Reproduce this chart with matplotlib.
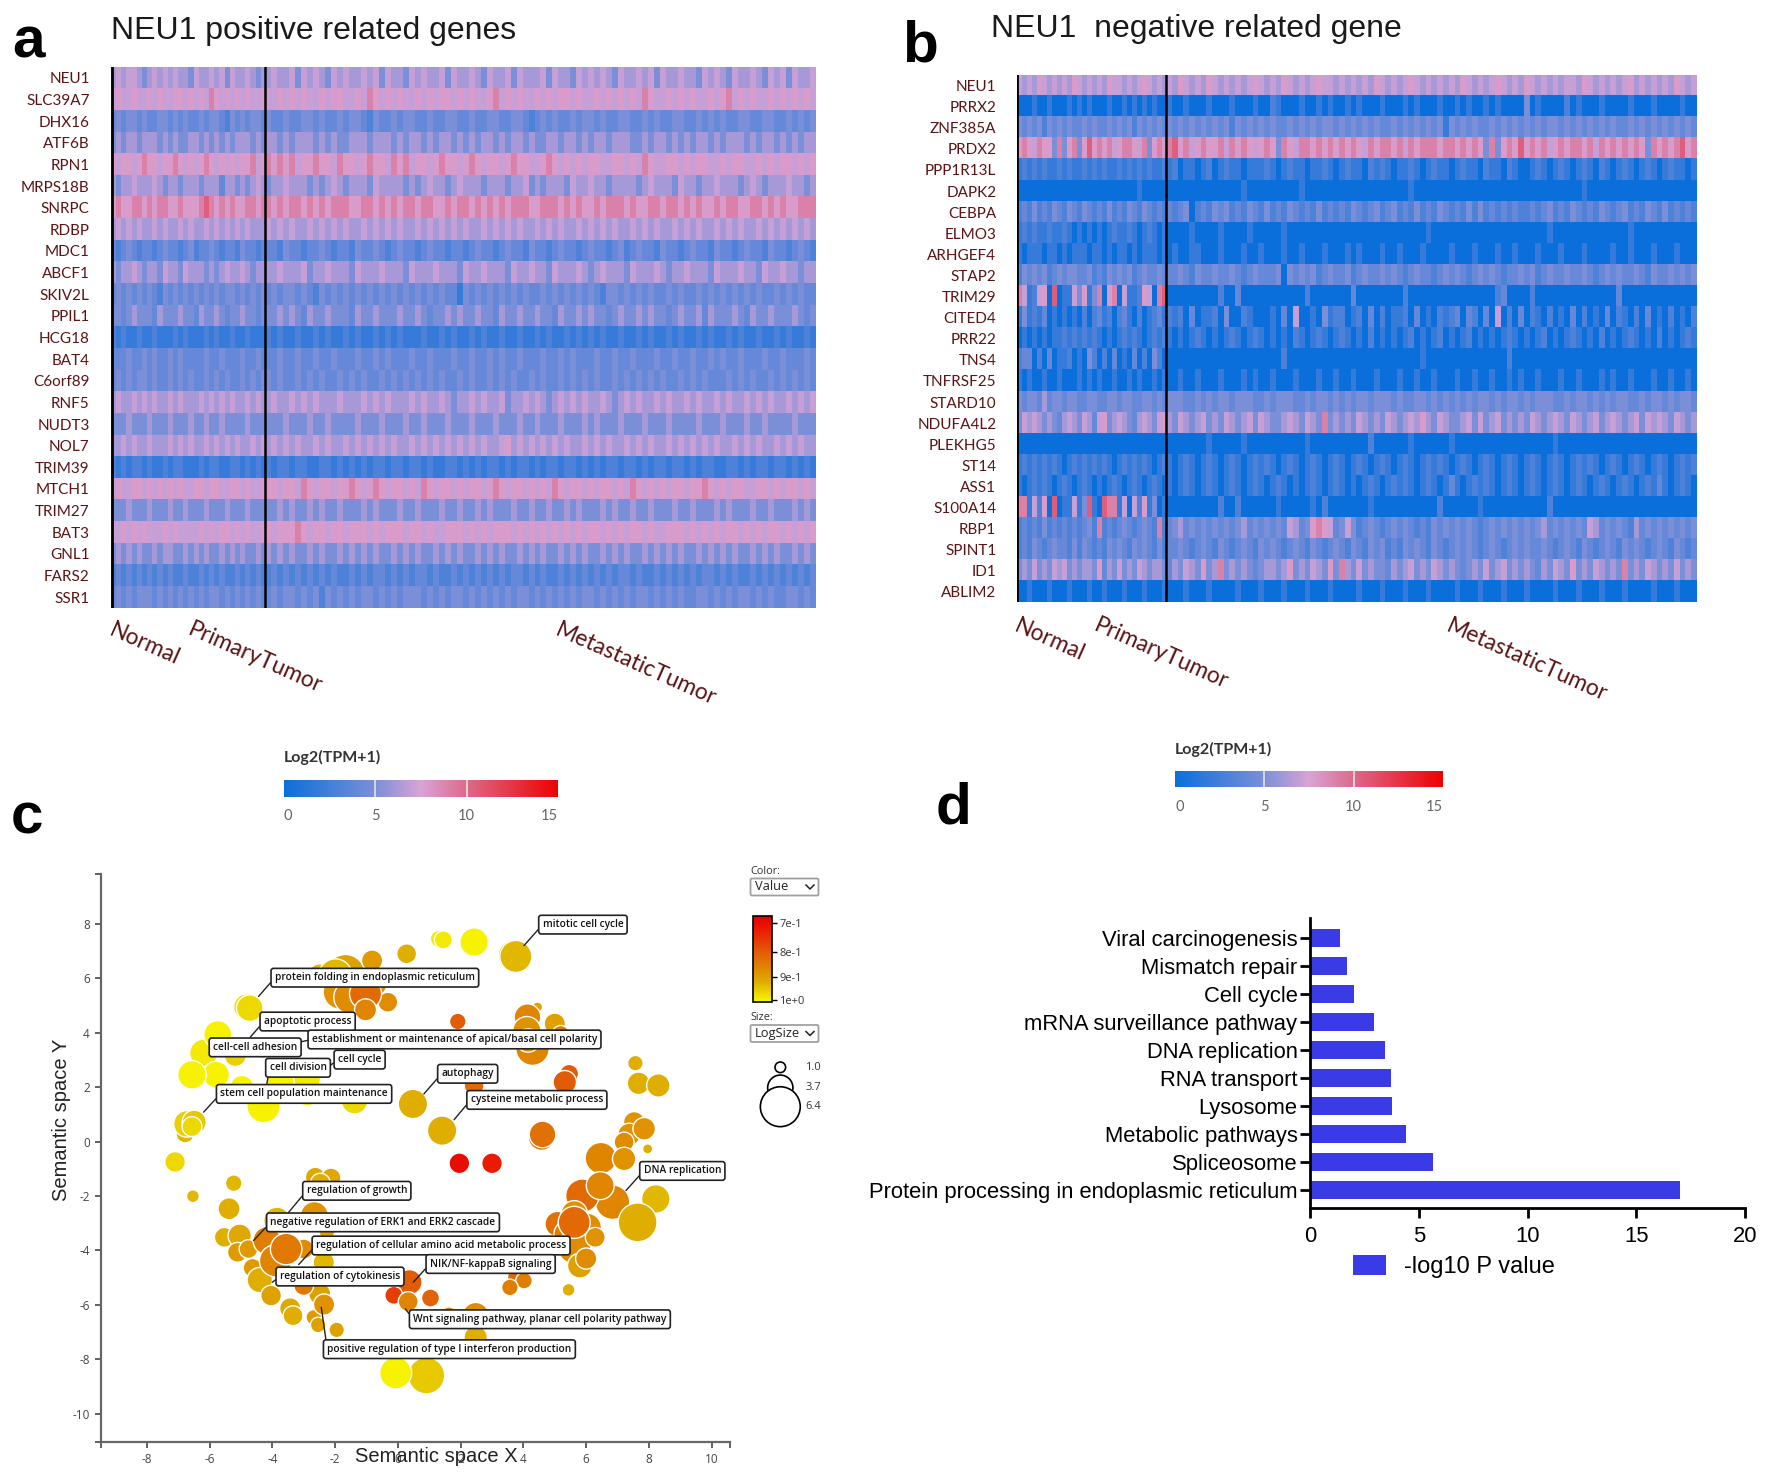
"""
Four panel figure for NEU1: two expression heatmaps, a semantic space
bubble plot of GO terms and a bar chart of enriched pathways.
All values are estimated by eye from the published picture.
"""
import numpy as np
import matplotlib
matplotlib.use('Agg')
import matplotlib.pyplot as plt
from matplotlib.cm import ScalarMappable
from matplotlib.colors import LinearSegmentedColormap, LogNorm, Normalize
from matplotlib.patches import Circle, FancyBboxPatch

WIDTH = 1772
HEIGHT = 1476
DPI = 100

GENES_A = ['NEU1', 'SLC39A7', 'DHX16', 'ATF6B', 'RPN1', 'MRPS18B', 'SNRPC',
           'RDBP', 'MDC1', 'ABCF1', 'SKIV2L', 'PPIL1', 'HCG18', 'BAT4',
           'C6orf89', 'RNF5', 'NUDT3', 'NOL7', 'TRIM39', 'MTCH1', 'TRIM27',
           'BAT3', 'GNL1', 'FARS2', 'SSR1']
GENES_B = ['NEU1', 'PRRX2', 'ZNF385A', 'PRDX2', 'PPP1R13L', 'DAPK2', 'CEBPA',
           'ELMO3', 'ARHGEF4', 'STAP2', 'TRIM29', 'CITED4', 'PRR22', 'TNS4',
           'TNFRSF25', 'STARD10', 'NDUFA4L2', 'PLEKHG5', 'ST14', 'ASS1',
           'S100A14', 'RBP1', 'SPINT1', 'ID1', 'ABLIM2']

# one digit per group of samples, normal part | tumour part
LEVELS = [0.1, 2.0, 3.0, 4.0, 5.0, 6.2, 7.0, 7.9, 9.0, 10.5]
ROWS_A = [
    '565665456565655465565646556545|56556465654656556564655465655646556546556465556465546565654655656465565546565465565465646556',
    '676676676766776767687676767667|66767676676776676876767667676776767667867676676767767667676767687667676766767867676676767676',
    '343443433443434334344324343443|43343344343343443243343443343344334334433443234343343443433443343433443343434334433443343434',
    '454554555454544554545454555454|55454555454544555455545455454554545455454554544554554545545554454554545455454555454554545455',
    '767767877677876767876767677867|87878677877687767877687867767877678767767877667876767677667767687667767677667677667676776767',
    '545565556545545554555355454565|45565554545654555465555454565545655545554556454555465565545555456555465545565554565455565545',
    '787788787887787778987878778878|87878878787888778878787887887787887878787888778887878778788878778878878787787887788787877888',
    '565656556565565655656565656555|65656556565656556565656556565656565565656565565656556565656556565655656565565656556565656565',
    '323432332343323423343233243323|33243323343233243343234332343323323433234332433234332343323423433243323433243323433243323432',
    '545565455465546555454565565455|55655564556555465556555465556555465565554655655465556545655546555654556555465556554655655455',
    '343434343243434343434344343434|34344343243434343434343434343433143434343434334343434343244343434334343343434343434334343433',
    '443454443544454435445434454434|44545435445444354454445445434454544544354454454435445454434544545443454453544454354454445434',
    '212112112111212111212112112111|21211211212112121121212111211212112121121121121211212121211211212112121121211212112112121121',
    '333433434334343333433433343343|33433433433433343343433343343334334334343343334334343334334334333433433433434334333433433343',
    '343434434334343433434343343434|43433434343343434334343434343433434334343433434334343434334343434343343434333434343343434343',
    '565565656556565556565656556565|56556565655565556565655565655654556565564556565456565655654565655656556565565655656565565656',
    '444544454445444544544544445444|44454445445444454445444544544454445444544454454445444545444544454445444454445444544544445444',
    '556565565556565655656565655656|56565655656556565656565565656565656565567565656565655656565565656556565656565565656556565655',
    '212122121121221112122112212121|21221221122121212122122122121122121212212122121221221212122122121221221212211221212212212121',
    '676677676767676677677667767667|77677687677677876787677676876776767767876776767687677676776768767676776778767677667767677676',
    '444544454445445444544454445444|44545445454454445454445445444544544545444544544544545444545445445444544544454544454454445454',
    '667676766676766667676776767667|76777876776776777676777677676677767676777676767676767677676767767667776767676776767677676767',
    '454545445455445454544545454454|54545445454454545454454545445454544545454454545445454544545454454545454454545454454545445454',
    '232323232323223223232322323232|23232323232322323233232323323223232323232332323223232323232332322323232323323232232323232323',
    '343434443434343434344343434343|34344343424343434434343444343434434343434344343434343443434343443434343344343434434343344343',
]
ROWS_B = [
    '656576565657656565766565676565|65765657656565676565765656766565656576565676565656576565676565765656566576565656756565657656',
    '000100100010101000100101010100|10010001000100010021000100101001010001000101000100101001010000401000020100010000100010000100',
    '434342434343343433434342434343|43434343434243434343343434344343434343343434343414343433434343434344343434343433434343434343',
    '787687748478479787867887684787|89786787786878767874876887878787876878878687888788787874847879787867878878687878787487878978',
    '121212112121121212112121212112|12011012012110111210121101121012110212101121012110121102110210012101210121021012101210121101',
    '000000000000000000000000100000|00000000000001000000000100000000000000000010000000000000000000000000000010000000000000000000',
    '232423243243243232423243243232|32340232434232432423243232423232432342342324232432324242323232232342324323243234232432423232',
    '121211211210101010121121012101|00001000010000100000100000000000000000000000010000000000000000000010000000000000100000000000',
    '101110110101110110101101011101|01001100010001001000100100010001010001001000100001000100010010001000100010000100100010001000',
    '243434234344334232434342343343|33432433433432343334043434234334234334343234332343432343432334342343343343234343343243343434',
    '861267090116471480780611276089|00000000020030000000000020000000300000000200000000000000023000020000000000000030000000000000',
    '141213010101020231202310201231|21203011204002100010306001041220120302011203010212303203060203021020103020103021020301020102',
    '010101011212121210101212101212|10101210101210121010102101210121010201010120101201012010101210101201012101020101210102010121',
    '233020301120104202030103020420|00000000000000000000200000000000000000000000100000000000000200000000000000000000000000000000',
    '101001001000101010010010100101|00100100010001010010001000100100100010001001001000100100100101001000100100010100100010010010',
    '434435344344334433443443344343|44433434344344433434443343443434344344434334434343434344343443434443343443434344334344343443',
    '465654543565465367456543565467|54654564546545646544565465484545465454654565754654456464564545465456546545645654564656546545',
    '000000000000000000000000000000|00000001000001000000000010000000000200000010000001000000000000000001000000000000000000000000',
    '121212121012121212101212121012|10121012101210121210121012101210121012101210121210121012101210121012101212101210121012101212',
    '101212101210121010121012101210|10121012101210121012101012101210101210121210121013101212101210121012101210121012101213101210',
    '881627090116149109881606271401|00000000020020000001000001020000000100000000000200000010000000000020000000000000000000000000',
    '232324232323234282323432343282|34534343434345343434365347876346423432343432324343434323434343434534343436534343253434343434',
    '232432343324243232434324343242|33432343243234324343234324323432432434232434324323434323432343433432343243234324343234324323',
    '454645465645455473546454654554|35465474584545434554574546547485464544354564546545434546456454543546547454654548454654546454',
    '001000100010001001000100010001|00010001000010001000100010001000010001000100010000100010001000100001000100010001000010001000',
]

DIVIDER_SHARE = 18  # width of the normal part, in the same units as TOTAL_SHARE
TOTAL_SHARE = 82

CATEGORY_LABELS = ['Normal', 'PrimaryTumor', 'MetastaticTumor']
TPM_TICKS = [0, 5, 10, 15]

# semantic space bubbles
BUBBLE_X = [-7.10, -6.78, -6.72, -6.49, -6.56, -6.19, -5.79, -6.56, -5.74,
            -5.18, -4.97, -4.81, -4.72, -4.28, -4.33, -3.69, -2.89, -2.89,
            -1.38, -2.49, -1.67, -1.99, -0.82, 0.28, -1.83, -0.77, -0.32,
            -1.51, -1.03, -1.03, 1.31, 1.45, 2.43, 1.91, 0.48, 1.41, 1.96,
            2.43, 3.68, 3.76, 4.45, 4.13, 5.00, 4.11, 5.19, 4.29, 4.15,
            5.46, 5.32, 4.58, 4.61, 3.00, 7.57, 7.67, 8.30, 7.53, 7.37,
            7.21, 7.85, 7.96, 6.47, 7.21, 6.84, 5.88, 6.45, 8.22, 7.64,
            5.09, 5.62, 5.40, 6.04, 5.62, 5.80, 6.00, 6.29, 5.62, 5.44,
            3.81, 4.02, 3.57, 2.48, 1.63, 2.48, 0.91, -0.07, -5.23, -6.53,
            -5.38, -5.53, -5.04, -5.11, -4.76, -4.63, -4.40, -4.04, -3.43,
            -3.34, -2.68, -2.54, -1.95, -2.49, -2.35, -2.63, -2.13, -2.47,
            -3.85, -2.66, -4.17, -3.00, -3.00, -2.36, -2.26, -3.90, -3.56,
            0.37, -0.13, 0.33, 1.04]
BUBBLE_Y = [-0.75, 0.28, 0.65, 0.71, 0.55, 3.25, 2.46, 2.45, 3.93,
            3.16, 2.00, 4.94, 4.90, 1.30, 3.35, 2.24, 1.87, 2.30,
            1.50, 6.10, 6.16, 6.10, 6.65, 6.90, 5.49, 5.80, 5.12,
            5.30, 5.43, 4.84, 7.45, 7.41, 7.33, 4.41, 1.38, 0.40, -0.80,
            2.06, 6.84, 6.80, 4.94, 4.57, 4.33, 4.08, 3.96, 3.41, 3.71,
            2.49, 2.18, 0.16, 0.26, -0.80, 2.88, 2.14, 2.06, 0.71, 0.26,
            -0.02, 0.47, -0.27, -0.61, -0.64, -2.23, -1.99, -1.62, -2.11, -2.97,
            -3.03, -2.66, -3.39, -3.15, -3.88, -4.56, -4.30, -3.52, -2.97, -5.45,
            -4.99, -5.11, -5.36, -6.40, -6.34, -7.20, -8.60, -8.50, -1.53, -2.01,
            -2.47, -3.52, -3.46, -4.07, -3.95, -4.64, -5.09, -5.66, -6.13,
            -6.40, -6.46, -6.74, -6.92, -5.60, -5.99, -1.31, -1.34, -1.53,
            -2.90, -2.72, -3.64, -3.95, -5.29, -4.44, -3.27, -4.38, -3.95,
            -5.17, -5.65, -5.88, -5.75]
BUBBLE_SIZE = [2.85, 2.36, 3.95, 3.50, 2.70, 4.20, 3.95, 4.30, 4.20,
               3.10, 3.35, 3.95, 3.95, 5.20, 2.10, 4.60, 4.60, 3.95,
               3.95, 3.35, 6.20, 5.20, 2.95, 2.70, 5.40, 3.95, 2.70,
               5.20, 4.95, 3.10, 2.20, 2.36, 4.30, 2.10, 4.45, 4.45, 2.85,
               2.70, 4.60, 4.95, 0.90, 3.95, 2.95, 4.20, 2.10, 5.20, 3.35,
               2.50, 3.35, 3.95, 3.95, 2.85, 1.90, 3.20, 3.35, 2.95, 3.20,
               2.70, 3.20, 0.90, 4.85, 3.35, 5.40, 5.20, 4.20, 4.30, 6.20,
               3.70, 3.95, 3.95, 4.20, 5.20, 3.60, 2.95, 2.70, 4.95, 1.40,
               2.70, 2.10, 2.10, 3.95, 1.70, 3.35, 5.80, 4.95, 2.10, 1.40,
               3.10, 2.70, 3.35, 2.70, 2.50, 2.50, 3.70, 2.85, 2.95,
               2.70, 1.90, 1.90, 1.90, 3.10, 2.95, 2.70, 2.70, 2.70,
               3.95, 4.20, 4.20, 2.70, 2.70, 2.95, 2.10, 4.95, 4.85,
               3.70, 2.36, 2.70, 2.36]
BUBBLE_VALUE = [0.97, 0.93, 0.96, 0.95, 0.97, 0.99, 1.00, 1.00, 1.00,
                0.96, 1.00, 0.98, 0.97, 1.00, 1.00, 1.00, 1.00, 0.99,
                0.97, 0.93, 0.90, 0.93, 0.89, 0.92, 0.88, 0.88, 0.87,
                0.87, 0.82, 0.86, 0.99, 0.99, 1.00, 0.80, 0.92, 0.92, 0.70,
                0.82, 0.94, 0.93, 0.90, 0.86, 0.90, 0.88, 0.85, 0.86, 0.87,
                0.80, 0.80, 0.84, 0.83, 0.72, 0.92, 0.92, 0.92, 0.88, 0.88,
                0.87, 0.88, 0.92, 0.86, 0.88, 0.86, 0.82, 0.86, 0.93, 0.92,
                0.83, 0.88, 0.85, 0.87, 0.87, 0.90, 0.87, 0.88, 0.82, 0.92,
                0.82, 0.85, 0.85, 0.87, 0.86, 0.92, 0.95, 1.00, 0.93, 0.93,
                0.92, 0.92, 0.91, 0.89, 0.89, 0.89, 0.92, 0.90, 0.91,
                0.92, 0.89, 0.90, 0.90, 0.90, 0.88, 0.91, 0.91, 0.92,
                0.93, 0.88, 0.85, 0.87, 0.84, 0.93, 0.90, 0.86, 0.84,
                0.80, 0.76, 0.86, 0.81]

TERM_NAMES = ['mitotic cell cycle', 'protein folding in endoplasmic reticulum',
              'apoptotic process',
              'establishment or maintenance of apical/basal cell polarity',
              'cell-cell adhesion', 'cell cycle', 'cell division',
              'stem cell population maintenance', 'autophagy',
              'cysteine metabolic process', 'DNA replication',
              'regulation of growth',
              'negative regulation of ERK1 and ERK2 cascade',
              'regulation of cellular amino acid metabolic process',
              'NIK/NF-kappaB signaling', 'regulation of cytokinesis',
              'Wnt signaling pathway, planar cell polarity pathway',
              'positive regulation of type I interferon production']
TERM_BOX_X = [4.50, -4.03, -4.38, -2.85, -6.00, -2.02, -4.20, -5.77, 1.28,
              2.21, 7.72, -3.02, -4.17, -2.72, 0.91, -3.87, 0.38, -2.36]
TERM_BOX_Y = [7.97, 6.02, 4.41, 3.75, 3.46, 3.01, 2.71, 1.75, 2.49,
              1.53, -1.08, -1.81, -2.97, -3.82, -4.50, -4.96, -6.53, -7.63]
TERM_POINT_X = [4.02, -4.44, -4.70, -3.15, -6.00, -2.23, -4.20, -6.19, 0.83,
                1.79, 7.27, -3.48, -4.60, -3.16, 0.49, -4.00, 0.24, -2.44]
TERM_POINT_Y = [7.20, 5.33, 3.84, 3.65, 3.46, 2.73, 1.94, 1.08, 1.75,
                0.80, -1.80, -2.60, -3.64, -4.52, -5.17, -5.17, -6.15, -6.09]

SEMANTIC_X_TICKS = [-8, -6, -4, -2, 0, 2, 4, 6, 8, 10]
SEMANTIC_Y_TICKS = [-10, -8, -6, -4, -2, 0, 2, 4, 6, 8]
VALUE_TICKS = [0.7, 0.8, 0.9, 1.0]
VALUE_LABELS = ['7e-1', '8e-1', '9e-1', '1e+0']
SIZE_LEGEND = [1.0, 3.7, 6.4]

PATHWAYS = ['Viral carcinogenesis', 'Mismatch repair', 'Cell cycle',
            'mRNA surveillance pathway', 'DNA replication', 'RNA transport',
            'Lysosome', 'Metabolic pathways', 'Spliceosome',
            'Protein processing in endoplasmic reticulum']
LOG_P = [1.36, 1.68, 2.03, 2.94, 3.45, 3.74, 3.77, 4.41, 5.64, 17.0]

DARK_RED = '#5c1414'
SANS = 'Liberation Sans'

TPM_CMAP = LinearSegmentedColormap.from_list(
    'tpm', [(0, '#0a6fdc'), (5 / 15, '#7c8fd8'), (7.5 / 15, '#d8a4d6'),
            (10 / 15, '#dc6a8c'), (1, '#ee0000')])
VALUE_CMAP = LinearSegmentedColormap.from_list(
    'value', [(0, '#e80000'), (0.13, '#ea1400'), (0.42, '#e25c08'),
              (0.60, '#e08400'), (0.78, '#dfb000'), (1, '#f8f800')])
VALUE_NORM = LogNorm(vmin=0.676, vmax=1.008)


def axes_px(fig, left, top, right, bottom):
    """
    Adds axes given by pixel edges measured from the top left corner.
    """
    return fig.add_axes([left / WIDTH, 1 - bottom / HEIGHT,
                         (right - left) / WIDTH, (bottom - top) / HEIGHT])


def bubble_radius(size):
    """
    Radius in pixels of a bubble with the given log size.
    """
    return 2.6 + 2.71 * np.asarray(size)


def plot_heatmap(fig, box, rows, genes, label_pad):
    """
    Draws one expression heatmap, with each row split at the black line.
    """
    ax = axes_px(fig, *box)
    for i, row in enumerate(rows):
        normal, tumour = row.split('|')
        for part, start, stop in [(normal, 0, DIVIDER_SHARE),
                                  (tumour, DIVIDER_SHARE, TOTAL_SHARE)]:
            values = np.array([[LEVELS[int(c)] for c in part]])
            ax.imshow(values, cmap=TPM_CMAP, vmin=0, vmax=15, aspect='auto',
                      extent=(start, stop, i + 1, i),
                      interpolation='nearest')
    ax.set_xlim(0, TOTAL_SHARE)
    ax.set_ylim(len(rows), 0)
    ax.axvline(0.12, color='black', lw=2)
    ax.axvline(DIVIDER_SHARE, color='black', lw=1.8)
    ax.set_xticks([])
    ax.set_yticks(np.arange(len(genes)) + 0.5)
    ax.set_yticklabels(genes, family='Lato', fontsize=11, color=DARK_RED)
    ax.tick_params(axis='y', length=0, pad=label_pad)
    for spine in ax.spines.values():
        spine.set_visible(False)


def plot_tpm_bar(fig, box):
    """
    Draws the horizontal Log2(TPM+1) colour scale.
    """
    cax = axes_px(fig, *box)
    bar = fig.colorbar(ScalarMappable(Normalize(0, 15), TPM_CMAP), cax=cax,
                       orientation='horizontal', ticks=TPM_TICKS)
    bar.outline.set_visible(False)
    cax.tick_params(axis='x', length=0, pad=9, labelsize=10.5,
                    labelcolor='#666666')
    labels = cax.get_xticklabels()
    for label in labels:
        label.set_family('Lato')
    labels[0].set_ha('left')
    labels[-1].set_ha('right')
    for tick in TPM_TICKS[1:-1]:
        cax.axvline(tick, color='#dddddd', lw=1.3)


def plot_bubbles(fig):
    """
    Draws the semantic space bubble plot with its term labels.
    """
    ax = axes_px(fig, 101, 874, 730.5, 1442)
    ax.set_xlim(-9.46, 10.6)
    ax.set_ylim(-11.04, 9.83)
    for spine in ['top', 'right']:
        ax.spines[spine].set_visible(False)
    for spine in ['left', 'bottom']:
        ax.spines[spine].set_color('#666666')
        ax.spines[spine].set_linewidth(1.6)
    radius_pt = bubble_radius(BUBBLE_SIZE) * 72 / DPI
    ax.scatter(BUBBLE_X, BUBBLE_Y, s=(2 * radius_pt) ** 2, c=BUBBLE_VALUE,
               cmap=VALUE_CMAP, norm=VALUE_NORM, edgecolors='white',
               linewidths=1.0, clip_on=False, zorder=3)
    ax.set_xticks(SEMANTIC_X_TICKS + [-9.46, 10.6])
    ax.set_yticks(SEMANTIC_Y_TICKS + [9.83, -11.04])
    ax.set_xticklabels([str(t) for t in SEMANTIC_X_TICKS] + ['', ''])
    ax.set_yticklabels([str(t) for t in SEMANTIC_Y_TICKS] + ['', ''])
    ax.tick_params(length=4.5, width=1.3, color='#555555', labelsize=8.5,
                   labelcolor='#444444', pad=3.5)
    for label in ax.get_xticklabels() + ax.get_yticklabels():
        label.set_family('Open Sans')
    for name, box_x, box_y, point_x, point_y in zip(
            TERM_NAMES, TERM_BOX_X, TERM_BOX_Y, TERM_POINT_X, TERM_POINT_Y):
        ax.annotate(name, xy=(point_x, point_y),
                    xytext=(box_x + 0.11, box_y), ha='left', va='center',
                    family='Open Sans', fontsize=7.25, color='#111111',
                    weight=600, zorder=5,
                    bbox=dict(boxstyle='round,pad=0.38,rounding_size=0.25',
                              fc='white', ec='#222222', lw=1.2),
                    arrowprops=dict(arrowstyle='-', color='#222222', lw=1.0,
                                    relpos=(0, 0.5), shrinkA=0, shrinkB=0))


def plot_value_legend(fig, overlay):
    """
    Draws the colour and size controls beside the bubble plot.
    """
    cax = axes_px(fig, 752.5, 916, 771.5, 1001.7)
    bar = fig.colorbar(ScalarMappable(VALUE_NORM, VALUE_CMAP), cax=cax)
    cax.invert_yaxis()
    bar.minorticks_off()
    bar.set_ticks(VALUE_TICKS)
    bar.set_ticklabels(VALUE_LABELS, family='Open Sans', fontsize=8,
                       color='#333333')
    cax.tick_params(length=3.5, width=1, pad=2)
    bar.outline.set_linewidth(1.2)

    for top, caption, choice in [(878, 'Color:', 'Value'),
                                 (1024.5, 'Size:', 'LogSize')]:
        overlay.text(750, top - 7, caption, family='Open Sans', fontsize=7.8,
                     color='#333333', va='center')
        overlay.add_patch(FancyBboxPatch(
            (751, top + 1), 67, 16,
            boxstyle='round,pad=0.5,rounding_size=1.5', fc='white',
            ec='#a0a0a0', lw=1.3))
        overlay.text(755, top + 9, choice, family='Open Sans', fontsize=9.3,
                     color='#222222', va='center')
        overlay.plot([806, 810, 814], [top + 7, top + 11, top + 7],
                     color='#222222', lw=1.1)

    centers = [1067.3, 1087.7, 1106.7]
    for size, center in zip(SIZE_LEGEND, centers):
        overlay.add_patch(Circle((780.3, center), bubble_radius(size),
                                 fc='white', ec='black', lw=1.2))
        overlay.text(805.5, center, '%.1f' % size, family='Open Sans',
                     fontsize=8, color='#333333', va='center')


def plot_pathways(fig):
    """
    Draws the bar chart of enriched pathways.
    """
    ax = axes_px(fig, 1310, 917.5, 1745, 1208)
    positions = np.arange(len(PATHWAYS))
    bars = ax.barh(positions, LOG_P, height=0.66, color='#3a3ae6',
                   label='-log10 P value')
    ax.set_xlim(0, 20)
    ax.set_ylim(len(PATHWAYS) - 1 + 0.645, -0.726)
    ax.set_xticks([0, 5, 10, 15, 20])
    ax.set_yticks(positions)
    ax.set_yticklabels(PATHWAYS)
    ax.tick_params(length=7, width=2, labelsize=15.8, pad=2)
    ax.tick_params(axis='x', pad=6)
    for label in ax.get_xticklabels() + ax.get_yticklabels():
        label.set_family(SANS)
    for spine in ['top', 'right']:
        ax.spines[spine].set_visible(False)
    for spine in ['left', 'bottom']:
        ax.spines[spine].set_linewidth(2)
    ax.legend(handles=[bars], loc='upper left', frameon=False,
              bbox_to_anchor=(0.05, -0.09), handlelength=1.4,
              handleheight=0.9, handletextpad=0.75,
              prop={'family': SANS, 'size': 17})


def main():
    """
    Builds all panels and saves the figure.
    """
    fig = plt.figure(figsize=(WIDTH / DPI, HEIGHT / DPI), dpi=DPI)

    plot_heatmap(fig, (110.5, 67, 815.5, 608), ROWS_A, GENES_A, 15)
    plot_heatmap(fig, (1016.5, 75, 1696, 602.5), ROWS_B, GENES_B, 14.5)
    plot_tpm_bar(fig, (284, 780, 558, 797))
    plot_tpm_bar(fig, (1175, 771, 1443, 787))
    plot_bubbles(fig)
    plot_pathways(fig)

    overlay = fig.add_axes([0, 0, 1, 1], zorder=10)
    overlay.set_xlim(0, WIDTH)
    overlay.set_ylim(HEIGHT, 0)
    overlay.axis('off')

    for text, x, y in [('a', 12, 42), ('b', 902, 46), ('c', 11, 818),
                       ('d', 936, 808)]:
        overlay.text(x, y, text, family=SANS, weight='bold', fontsize=42,
                     va='center')
    overlay.text(111, 31, 'NEU1 positive related genes', family=SANS,
                 fontsize=23, va='center', color='#1a1a1a')
    overlay.text(991, 29, 'NEU1  negative related gene', family=SANS,
                 fontsize=23, va='center', color='#1a1a1a')

    for x_positions, top in [((115, 193, 561), 619), ((1020, 1099, 1452), 615)]:
        for text, x in zip(CATEGORY_LABELS, x_positions):
            overlay.text(x, top, text, family='Lato', fontsize=16.5,
                         color=DARK_RED, rotation=-24, rotation_mode='anchor',
                         ha='left', va='top')

    for x, y in [(284, 757), (1175, 749)]:
        overlay.text(x, y, 'Log2(TPM+1)', family='Lato', weight='bold',
                     fontsize=11.5, color='#333333', va='center')

    overlay.text(436, 1457, 'Semantic space X', family=SANS, fontsize=14.5,
                 ha='center', va='center', color='#222222')
    overlay.text(62, 1120, 'Semantic space Y', family=SANS, fontsize=14.5,
                 ha='center', va='center', rotation=90, color='#222222')
    plot_value_legend(fig, overlay)

    fig.savefig('out.png', dpi=DPI)


if __name__ == '__main__':
    main()
